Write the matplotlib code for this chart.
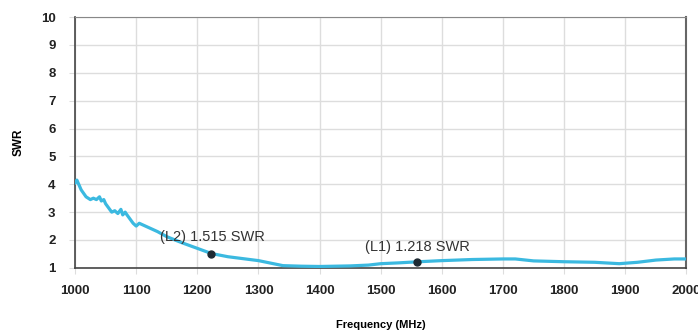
import matplotlib.pyplot as plt

plt.rcParams['font.family'] = ['Liberation Sans', 'DejaVu Sans']

freq = [1000, 1003, 1010, 1018, 1025, 1030, 1035, 1040, 1043, 1047, 1050, 1055,
        1060, 1065, 1070, 1075, 1078, 1082, 1085, 1090, 1095, 1100, 1105, 1110,
        1120, 1135, 1150, 1175, 1200, 1223, 1250, 1275, 1300, 1320, 1340, 1370,
        1400, 1450, 1480, 1500, 1530, 1560, 1600, 1650, 1700, 1720, 1750, 1800,
        1850, 1890, 1920, 1950, 1980, 2000]
swr = [4.05, 4.15, 3.8, 3.55, 3.45, 3.5, 3.45, 3.55, 3.4, 3.45, 3.3, 3.15,
       3.0, 3.05, 2.95, 3.1, 2.9, 3.0, 2.9, 2.75, 2.6, 2.5, 2.6, 2.55,
       2.45, 2.3, 2.12, 1.9, 1.7, 1.515, 1.4, 1.33, 1.26, 1.17, 1.08, 1.06,
       1.05, 1.07, 1.1, 1.15, 1.18, 1.218, 1.26, 1.3, 1.32, 1.32, 1.25, 1.22,
       1.2, 1.15, 1.2, 1.28, 1.32, 1.32]

markers = [(1223, 1.515, '(L2) 1.515 SWR'), (1560, 1.218, '(L1) 1.218 SWR')]

fig = plt.figure(figsize=(6.98, 3.34), dpi=100)
ax = fig.add_axes([0.1075, 0.198, 0.876, 0.751])

ax.plot(freq, swr, color='#3bb9e0', linewidth=2.3, zorder=3)
for x, y, txt in markers:
    ax.plot(x, y, 'o', color='#1e2a33', markersize=5, zorder=4)
ax.text(1139, 2.11, markers[0][2], fontsize=10.5, color='#333333', va='center')
ax.text(1475, 1.75, markers[1][2], fontsize=10.5, color='#333333', va='center')

ax.set_xlim(1000, 2000)
ax.set_ylim(1, 10)
ax.set_xticks(range(1000, 2001, 100))
ax.set_yticks(range(1, 11))
ax.grid(True, color='#dddddd', linewidth=1)
ax.set_axisbelow(True)
ax.tick_params(length=4, color='#dddddd', labelsize=9.5, labelcolor='#222222')
ax.tick_params(axis='x', pad=8)
ax.tick_params(axis='y', pad=10)
for lab in ax.get_xticklabels() + ax.get_yticklabels():
    lab.set_fontweight('bold')
for s in ['left', 'bottom']:
    ax.spines[s].set_color('#444444')
    ax.spines[s].set_linewidth(1.2)
ax.spines['top'].set_color('#888888')
ax.spines['right'].set_color('#666666')
ax.spines['right'].set_linewidth(1.5)

ax.set_xlabel('Frequency (MHz)', fontsize=8, fontweight='bold', labelpad=17)
ax.set_ylabel('SWR', fontsize=8.5, fontweight='bold', labelpad=12)

fig.savefig('out.png', dpi=100)
